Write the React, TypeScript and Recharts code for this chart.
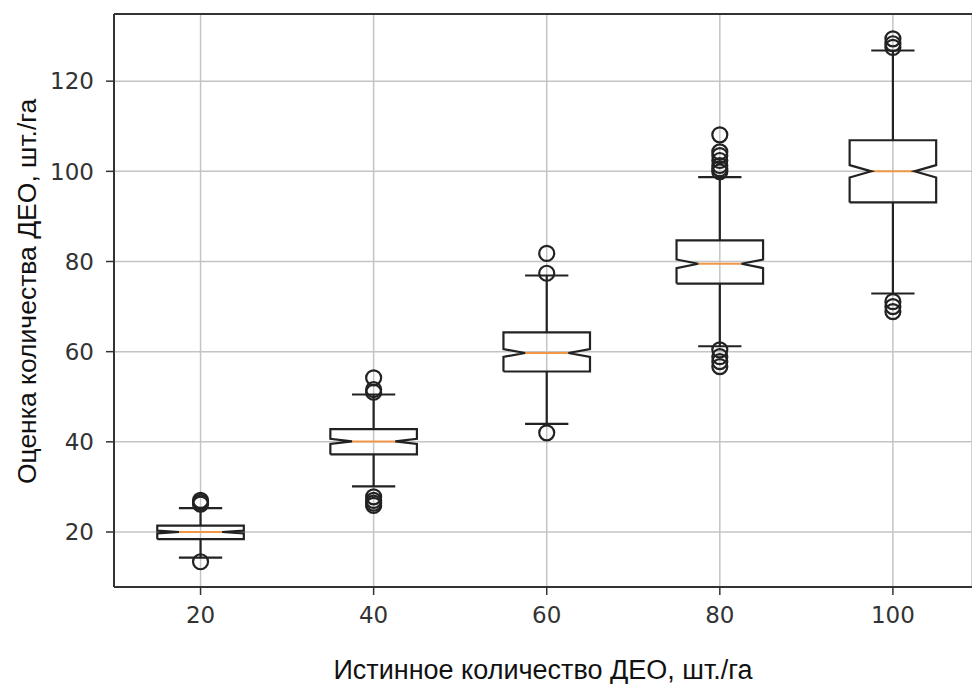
import React from "react";
import {
  ComposedChart,
  Scatter,
  XAxis,
  YAxis,
  CartesianGrid,
  ReferenceLine,
} from "recharts";

// true number of objects per hectare (x categories)
const categories = ["20", "40", "60", "80", "100"];
// box statistics
const q1 = [18.4, 37.2, 55.6, 75.1, 93.1];
const medians = [20.0, 40.1, 59.7, 79.5, 100.0];
const q3 = [21.4, 42.8, 64.3, 84.7, 106.9];
const whiskerLow = [14.3, 30.1, 44.0, 61.2, 72.9];
const whiskerHigh = [25.3, 50.5, 76.9, 98.7, 126.8];
const outliers = [
  [27.0, 26.6, 26.2, 13.4],
  [54.2, 51.6, 51.0, 27.8, 27.0, 26.4, 25.9],
  [81.8, 77.4, 42.0],
  [108.1, 104.3, 103.5, 102.4, 101.3, 100.6, 99.9, 60.4, 58.9, 57.8, 56.7],
  [129.4, 128.3, 127.5, 71.1, 70.0, 68.9],
];
const yTicks = [20, 40, 60, 80, 100, 120];

const SAMPLE_N = 250;
const BOX_HALF = 0.25;
const NOTCH_HALF = 0.125;
const X_DOMAIN: [number, number] = [0.5, 5.457];
const Y_DOMAIN: [number, number] = [7.8, 134.9];

const positions = categories.map((_, i) => i + 1);

const boxOutline = (i: number) => {
  const p = positions[i];
  const m = medians[i];
  const n = (1.57 * (q3[i] - q1[i])) / Math.sqrt(SAMPLE_N);
  return [
    { x: p - BOX_HALF, y: q1[i] },
    { x: p + BOX_HALF, y: q1[i] },
    { x: p + BOX_HALF, y: m - n },
    { x: p + NOTCH_HALF, y: m },
    { x: p + BOX_HALF, y: m + n },
    { x: p + BOX_HALF, y: q3[i] },
    { x: p - BOX_HALF, y: q3[i] },
    { x: p - BOX_HALF, y: m + n },
    { x: p - NOTCH_HALF, y: m },
    { x: p - BOX_HALF, y: m - n },
    { x: p - BOX_HALF, y: q1[i] },
  ];
};

const outlierPoints = outliers.flatMap((vals, i) =>
  vals.map((v) => ({ x: positions[i], y: v }))
);

const INK = "#222";
const LW = 2.2;
const tickFont = { fontFamily: "DejaVu Sans", fontSize: 23, fill: "#333" };

const Empty = () => <g />;
const Ring = (props: any) => (
  <circle cx={props.cx} cy={props.cy} r={7.5} fill="none" stroke={INK} strokeWidth={LW} />
);

const YLabel = (props: any) => {
  const vb = props.viewBox;
  const cy = vb.y + vb.height / 2 - 9;
  return (
    <text
      x={36}
      y={cy}
      transform={`rotate(-90, 36, ${cy})`}
      textAnchor="middle"
      fontFamily="Liberation Sans"
      fontSize={26.5}
      fill="#111"
    >
      Оценка количества ДЕО, шт./га
    </text>
  );
};

const XLabel = (props: any) => {
  const vb = props.viewBox;
  return (
    <text
      x={543}
      y={vb.y + 92}
      textAnchor="middle"
      fontFamily="Liberation Sans"
      fontSize={27}
      fill="#111"
    >
      Истинное количество ДЕО, шт./га
    </text>
  );
};

export default function App() {
  return (
    <div
      style={{
        position: "fixed",
        left: 0,
        top: 0,
        width: 972,
        height: 684,
        background: "#fff",
        overflow: "hidden",
      }}
    >
      <ComposedChart
        width={972}
        height={684}
        margin={{ top: 14, right: 0, bottom: 0, left: 0 }}
      >
        <CartesianGrid stroke="#c4c4c4" strokeWidth={1.5} />
        <XAxis
          dataKey="x"
          type="number"
          domain={X_DOMAIN}
          allowDataOverflow
          ticks={positions}
          tickFormatter={(v) => categories[Math.round(v) - 1] ?? ""}
          height={97}
          tick={tickFont}
          tickSize={8}
          tickMargin={12}
          axisLine={{ stroke: "#333", strokeWidth: 2 }}
          tickLine={{ stroke: "#333", strokeWidth: 1.5 }}
          label={<XLabel />}
        />
        <YAxis
          type="number"
          domain={Y_DOMAIN}
          allowDataOverflow
          ticks={yTicks}
          width={114}
          tick={tickFont}
          tickSize={8}
          tickMargin={12}
          axisLine={{ stroke: "#333", strokeWidth: 2 }}
          tickLine={{ stroke: "#333", strokeWidth: 1.5 }}
          label={<YLabel />}
        />
        <ReferenceLine y={Y_DOMAIN[1]} stroke="#333" strokeWidth={2} ifOverflow="visible" />

        {positions.map((p, i) => (
          <ReferenceLine
            key={`wl${i}`}
            segment={[
              { x: p, y: whiskerLow[i] },
              { x: p, y: q1[i] },
            ]}
            stroke={INK}
            strokeWidth={LW}
            ifOverflow="visible"
          />
        ))}
        {positions.map((p, i) => (
          <ReferenceLine
            key={`wh${i}`}
            segment={[
              { x: p, y: q3[i] },
              { x: p, y: whiskerHigh[i] },
            ]}
            stroke={INK}
            strokeWidth={LW}
            ifOverflow="visible"
          />
        ))}
        {positions.map((p, i) => (
          <ReferenceLine
            key={`cl${i}`}
            segment={[
              { x: p - NOTCH_HALF, y: whiskerLow[i] },
              { x: p + NOTCH_HALF, y: whiskerLow[i] },
            ]}
            stroke={INK}
            strokeWidth={LW}
            ifOverflow="visible"
          />
        ))}
        {positions.map((p, i) => (
          <ReferenceLine
            key={`ch${i}`}
            segment={[
              { x: p - NOTCH_HALF, y: whiskerHigh[i] },
              { x: p + NOTCH_HALF, y: whiskerHigh[i] },
            ]}
            stroke={INK}
            strokeWidth={LW}
            ifOverflow="visible"
          />
        ))}
        {positions.map((p, i) => (
          <Scatter
            key={`box${i}`}
            data={boxOutline(i)}
            dataKey="y"
            shape={<Empty />}
            line={{ stroke: INK, strokeWidth: LW }}
            lineType="joint"
            isAnimationActive={false}
          />
        ))}
        {positions.map((p, i) => (
          <ReferenceLine
            key={`md${i}`}
            segment={[
              { x: p - NOTCH_HALF, y: medians[i] },
              { x: p + NOTCH_HALF, y: medians[i] },
            ]}
            stroke="#f09848"
            strokeWidth={2}
            ifOverflow="visible"
          />
        ))}
        <Scatter
          data={outlierPoints}
          dataKey="y"
          shape={<Ring />}
          isAnimationActive={false}
        />
      </ComposedChart>
    </div>
  );
}
